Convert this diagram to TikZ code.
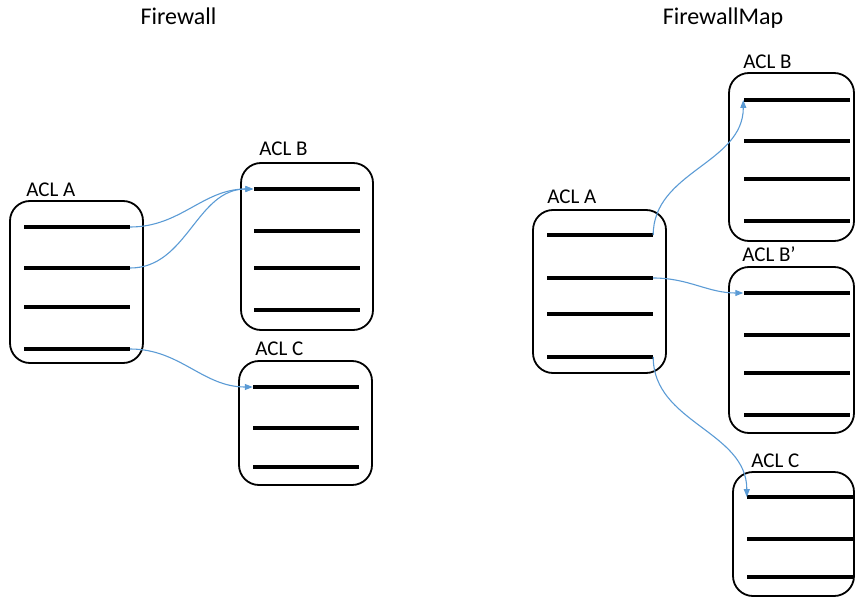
\documentclass[tikz,border=0pt]{standalone}
\usepackage{fontspec}
\setmainfont{Carlito}
\usetikzlibrary{positioning,arrows.meta}
\definecolor{linkblue}{RGB}{91,155,213}
\tikzset{
acl/.style={draw, line width=1.8pt, rounded corners=20pt, inner sep=0pt}, % the ACL boxes
bar/.style={fill=black, inner sep=0pt, minimum height=4pt, minimum width=106pt}, % one rule
heading/.style={anchor=base, font=\fontsize{24}{28}\selectfont},
acllabel/.style={inner sep=0pt, font=\fontsize{21}{25}\selectfont},
flow/.style={draw=linkblue, line width=1.1pt, -{Triangle[length=8pt,width=6pt]}},
}

\begin{document}
\begin{tikzpicture}[x=1pt,y=1pt]
   \useasboundingbox (0,0) rectangle (856,-599);
   % Firewall
   \node[heading] (fw)  at (178.5,-25) {Firewall};
   \node[acl, minimum width=133pt, minimum height=162pt] (fwA) at (76.5,-282) {};
   \node[acl, minimum width=132pt, minimum height=167pt] (fwB) at (307,-246.5) {};
   \node[acl, minimum width=133pt, minimum height=124pt] (fwC) at (305.5,-423) {};
   \node[acllabel, above right=3pt and 17pt of fwA.north west] (fwAl) {ACL A};
   \node[acllabel, above right=6pt and 19pt of fwB.north west] (fwBl) {ACL B};
   \node[acllabel, above right=4pt and 17pt of fwC.north west] (fwCl) {ACL C};
   \node[bar] (fwA1) at (77,-227) {};
   \node[bar] (fwA2) at (77,-268) {};
   \node[bar] (fwA3) at (77,-307) {};
   \node[bar] (fwA4) at (77,-349) {};
   \node[bar] (fwB1) at (306.5,-189) {};
   \node[bar] (fwB2) at (306.5,-231) {};
   \node[bar] (fwB3) at (306.5,-268) {};
   \node[bar] (fwB4) at (306.5,-310) {};
   \node[bar] (fwC1) at (306,-387) {};
   \node[bar] (fwC2) at (306,-428) {};
   \node[bar] (fwC3) at (306,-467) {};
    \path
    (fwA1.east) edge[flow, out=0, in=180] (fwB1.west)
    (fwA2.east) edge[flow, out=0, in=180] (fwB1.west)
    (fwA4.east) edge[flow, out=0, in=180] (fwC1.west);

   % FirewallMap
   \node[heading] (fwmap) at (723,-25) {FirewallMap};
   \node[acl, minimum width=133pt, minimum height=163pt] (mapA)  at (599.5,-291.5) {};
   \node[acl, minimum width=125pt, minimum height=168pt] (mapB)  at (791.5,-157) {};
   \node[acl, minimum width=125pt, minimum height=166pt] (mapBp) at (791.5,-350) {};
   \node[acl, minimum width=121pt, minimum height=124pt] (mapC)  at (793.5,-534) {};
   \node[acllabel, above right=5pt and 15pt of mapA.north west]  (mapAl)  {ACL A};
   \node[acllabel, above right=3pt and 15pt of mapB.north west]  (mapBl)  {ACL B};
   \node[acllabel, above right=4pt and 14pt of mapBp.north west] (mapBpl) {ACL B’};
   \node[acllabel, above right=3pt and 19pt of mapC.north west]  (mapCl)  {ACL C};
   \node[bar] (mapA1) at (600,-235) {};
   \node[bar] (mapA2) at (600,-278) {};
   \node[bar] (mapA3) at (600,-314) {};
   \node[bar] (mapA4) at (600,-357) {};
   \node[bar] (mapB1) at (796.5,-100) {};
   \node[bar] (mapB2) at (796.5,-141) {};
   \node[bar] (mapB3) at (796.5,-179) {};
   \node[bar] (mapB4) at (796.5,-221) {};
   \node[bar] (mapBp1) at (796.5,-293) {};
   \node[bar] (mapBp2) at (796.5,-335) {};
   \node[bar] (mapBp3) at (796.5,-373) {};
   \node[bar] (mapBp4) at (796.5,-415) {};
   \node[bar] (mapC1) at (800,-497) {};
   \node[bar] (mapC2) at (800,-539) {};
   \node[bar] (mapC3) at (800,-577) {};
    \path
    (mapA1.east) edge[flow, out=90, in=-90] (mapB1.west)
    (mapA2.east) edge[flow, out=0, in=180]  (mapBp1.west)
    (mapA4.east) edge[flow, out=-90, in=90] (mapC1.west);
\end{tikzpicture}
\end{document}
